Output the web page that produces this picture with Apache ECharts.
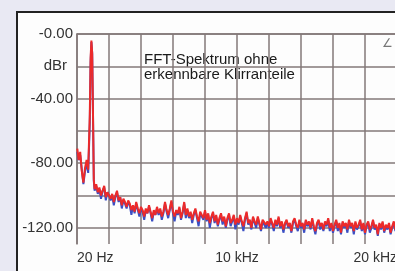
<!DOCTYPE html>
<html>
<head>
<meta charset="utf-8">
<script src="https://cdn.jsdelivr.net/npm/echarts@6/dist/echarts.min.js"></script>
<style>
  html, body { margin: 0; padding: 0; overflow: hidden; }
  body { width: 395px; height: 271px; background: #e9e9f3; position: relative; }
  .panel {
    position: absolute; left: 16px; top: 11px; width: 400px; height: 280px;
    background: #fdfdfd; border-top: 2px solid #222; border-left: 2px solid #222;
  }
  #chart { position: absolute; left: 0; top: 0; width: 400px; height: 271px; }
</style>
</head>
<body>
<div class="panel"></div>
<div id="chart"></div>
<script>
// Frequenzen in Hz
const freqs = [
  20, 100, 200, 300, 400, 500, 600, 700, 800, 850, 900, 950, 1000, 1050,
  1100, 1200, 1300, 1400, 1500, 1600, 1700, 1800, 1900, 2000,
  2100, 2200, 2300, 2400, 2500, 2600, 2700, 2800, 2900, 3000,
  3100, 3200, 3300, 3400, 3500, 3600, 3700, 3800, 3900, 4000,
  4100, 4200, 4300, 4400, 4500, 4600, 4700, 4800, 4900, 5000,
  5100, 5200, 5300, 5400, 5500, 5600, 5700, 5800, 5900, 6000,
  6100, 6200, 6300, 6400, 6500, 6600, 6700, 6800, 6900, 7000,
  7100, 7200, 7300, 7400, 7500, 7600, 7700, 7800, 7900, 8000,
  8100, 8200, 8300, 8400, 8500, 8600, 8700, 8800, 8900, 9000,
  9100, 9200, 9300, 9400, 9500, 9600, 9700, 9800, 9900, 10000,
  10100, 10200, 10300, 10400, 10500, 10600, 10700, 10800, 10900, 11000,
  11100, 11200, 11300, 11400, 11500, 11600, 11700, 11800, 11900, 12000,
  12100, 12200, 12300, 12400, 12500, 12600, 12700, 12800, 12900, 13000,
  13100, 13200, 13300, 13400, 13500, 13600, 13700, 13800, 13900, 14000,
  14100, 14200, 14300, 14400, 14500, 14600, 14700, 14800, 14900, 15000,
  15100, 15200, 15300, 15400, 15500, 15600, 15700, 15800, 15900, 16000,
  16100, 16200, 16300, 16400, 16500, 16600, 16700, 16800, 16900, 17000,
  17100, 17200, 17300, 17400, 17500, 17600, 17700, 17800, 17900, 18000,
  18100, 18200, 18300, 18400, 18500, 18600, 18700, 18800, 18900, 19000,
  19100, 19200, 19300, 19400, 19500, 19600, 19700, 19800, 19900, 20000
]
// rechter Kanal (rot)
const redDb = [
  -71, -78, -73, -85, -92, -83, -78, -84, -50, -15, -4, -12, -50, -90,
  -96, -93, -98, -95, -100, -97, -94, -101, -98, -100,
  -102, -99, -104, -100, -97, -103, -101, -106, -102, -104,
  -107, -103, -105, -109, -106, -110, -104, -108, -111, -107,
  -109, -113, -108, -111, -106, -110, -114, -109, -112, -107,
  -111, -108, -113, -110, -104, -109, -112, -108, -103, -110,
  -113, -109, -111, -107, -114, -110, -104, -112, -108, -113,
  -110, -115, -111, -108, -113, -116, -110, -112, -114, -109,
  -115, -111, -117, -113, -110, -116, -112, -118, -114, -111,
  -116, -113, -119, -114, -111, -117, -115, -112, -118, -114,
  -117, -112, -116, -119, -114, -110, -117, -115, -120, -113,
  -116, -118, -113, -117, -121, -115, -114, -118, -116, -119,
  -114, -117, -120, -115, -118, -113, -119, -116, -121, -117,
  -115, -119, -117, -122, -116, -114, -118, -120, -115, -119,
  -117, -121, -115, -118, -116, -120, -114, -119, -122, -117,
  -115, -119, -117, -121, -116, -118, -114, -120, -117, -122,
  -118, -115, -120, -117, -123, -116, -119, -117, -121, -115,
  -119, -117, -122, -116, -120, -118, -115, -121, -117, -123,
  -118, -116, -121, -119, -115, -120, -118, -124, -117, -120,
  -116, -122, -118, -120, -117, -123, -119, -116, -121, -118
]
// linker Kanal (blau)
const blueDb = [
  -73, -78, -75, -84, -93, -85, -80, -86, -55, -18, -5, -12, -50, -91,
  -97, -94, -99, -96, -102, -97, -95, -103, -98, -100,
  -103, -100, -106, -101, -98, -104, -101, -108, -103, -105,
  -108, -104, -106, -112, -106, -111, -105, -109, -113, -108,
  -110, -115, -109, -111, -107, -111, -116, -110, -112, -108,
  -112, -109, -115, -111, -105, -110, -114, -109, -104, -111,
  -116, -110, -112, -108, -115, -111, -105, -114, -109, -114,
  -111, -117, -112, -109, -114, -119, -111, -113, -115, -110,
  -116, -112, -120, -114, -111, -117, -113, -119, -115, -112,
  -118, -114, -120, -115, -112, -119, -116, -113, -121, -115,
  -118, -113, -117, -122, -115, -111, -118, -116, -121, -114,
  -117, -120, -114, -118, -122, -116, -115, -120, -117, -120,
  -115, -118, -122, -116, -119, -114, -120, -117, -123, -118,
  -116, -120, -118, -123, -117, -115, -119, -122, -116, -120,
  -118, -123, -116, -119, -117, -121, -115, -120, -124, -118,
  -116, -121, -118, -122, -117, -119, -115, -122, -118, -123,
  -119, -116, -122, -118, -124, -117, -120, -118, -123, -116,
  -120, -118, -124, -117, -121, -119, -116, -122, -118, -124,
  -119, -117, -123, -120, -116, -121, -119, -125, -118, -121,
  -117, -123, -119, -121, -118, -124, -120, -117, -122, -119
]
// Achsenbeschriftungen
const yLabels = { '0': '-0.00', '-20': '{u|dBr}', '-40': '-40.00', '-80': '-80.00', '-120': '-120.00' }
const xLabels = { '0': '20 Hz', '10000': '10 kHz', '20000': '20 kHz' }

const toPairs = (vals) => freqs.map((f, i) => [f, vals[i]])

const chart = echarts.init(document.getElementById('chart'), null, { renderer: 'canvas' })
const gridColor = '#837878'

chart.setOption({
  animation: false,
  backgroundColor: 'transparent',
  textStyle: { fontFamily: 'Liberation Sans, Arial, sans-serif' },
  grid: { left: 77, right: 1, top: 34, bottom: 27, containLabel: false },
  xAxis: {
    type: 'value',
    min: 0,
    max: 20000,
    interval: 2000,
    axisLine: { show: true, lineStyle: { color: gridColor, width: 1.5 } },
    axisTick: { show: false },
    splitLine: { show: true, lineStyle: { color: gridColor, width: 1.5 } },
    axisLabel: {
      color: '#333',
      fontSize: 14,
      margin: 7,
      alignMinLabel: 'left',
      alignMaxLabel: 'right',
      formatter: (v) => xLabels[String(v)] || ''
    }
  },
  yAxis: {
    type: 'value',
    min: -130,
    max: 0,
    interval: 10,
    axisLine: { show: true, lineStyle: { color: gridColor, width: 1.5 } },
    axisTick: { show: false },
    splitLine: { show: true, lineStyle: { color: ['transparent', gridColor], width: 1.5 } },
    axisLabel: {
      color: '#333',
      fontSize: 15,
      margin: 4,
      formatter: (v) => yLabels[String(v)] || '',
      rich: { u: { fontSize: 15, color: '#333', padding: [0, 6, 0, 0] } }
    }
  },
  graphic: [
    {
      type: 'text',
      left: 144,
      top: 52,
      style: {
        text: 'FFT-Spektrum ohne\nerkennbare Klirranteile',
        fill: '#1a1a1a',
        font: '15px "Liberation Sans", Arial, sans-serif',
        lineHeight: 15
      }
    },
    {
      type: 'text',
      left: 382,
      top: 38,
      style: { text: '∠', fill: '#777', font: '12px "DejaVu Sans", sans-serif' }
    }
  ],
  series: [
    {
      name: 'links',
      type: 'line',
      data: toPairs(blueDb),
      symbol: 'none',
      lineStyle: { color: '#3b4fc4', width: 2 },
      z: 2
    },
    {
      name: 'rechts',
      type: 'line',
      data: toPairs(redDb),
      symbol: 'none',
      lineStyle: { color: '#ec2a2a', width: 2 },
      z: 3
    }
  ]
})
</script>
</body>
</html>
